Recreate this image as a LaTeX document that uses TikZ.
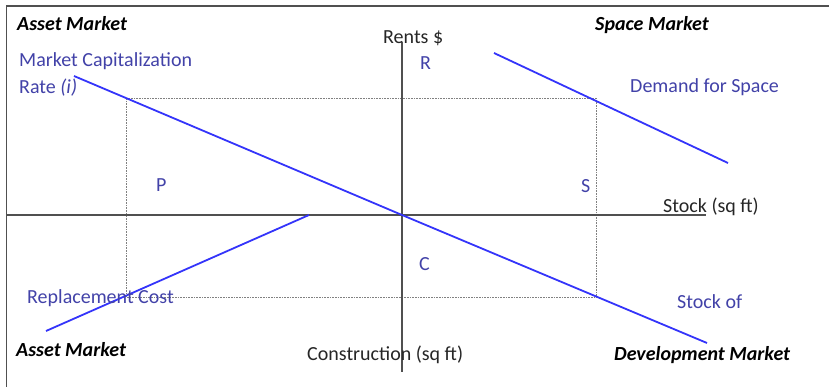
\documentclass[tikz,border=0pt]{standalone}
\usepackage{fontspec}
\setmainfont{Carlito}
\usepackage{tikz}
\newdimen\unitsize
\setlength{\unitsize}{1pt}
\definecolor{curveblue}{RGB}{52,52,250}
\definecolor{labelblue}{RGB}{66,66,168}
\definecolor{axisgray}{RGB}{80,80,80}

\begin{document}
\begin{tikzpicture}[x=\unitsize,y=-\unitsize,
  axis/.style={axisgray,line width=1.7pt},
  curve/.style={curveblue,line width=1.8pt},
  guide/.style={gray,densely dotted,line width=0.6pt},
  txt/.style={inner sep=0pt,anchor=base west,font=\fontsize{20}{24}\selectfont},
  quadtitle/.style={txt,font=\fontsize{20}{24}\selectfont\bfseries\itshape},
  bluetxt/.style={txt,labelblue},
  axistxt/.style={txt,black!85}]
\useasboundingbox (0,0) rectangle (829,387);
\draw[axisgray,line width=1pt] (6,387) -- (6,6);
\draw[axisgray,line width=1.8pt] (6,6) -- (829,6);

\coordinate (origin) at (402,215);
\coordinate (xleft) at (6,215);
\coordinate (xright) at (706,215);
\coordinate (ytop) at (402,42);
\coordinate (ybot) at (402,372);
\coordinate (caprate) at (74,76);
\coordinate (stockend) at (707,343);
\coordinate (demtop) at (494,53);
\coordinate (demend) at (728,163);
\coordinate (repllow) at (46,331);
\coordinate (replhigh) at (309,215);
\coordinate (pr) at (126,98);
\coordinate (rs) at (596,98);
\coordinate (sc) at (596,297);
\coordinate (cp) at (126,297);

\draw[guide] (pr) -- (rs) -- (sc) -- (cp) -- cycle;

\draw[axis] (xleft) -- (xright);
\draw[axis] (ytop) -- (ybot);

\draw[curve] (caprate) -- (origin) -- (stockend);
\draw[curve] (demtop) -- (demend);
\draw[curve] (repllow) -- (replhigh);

\node[quadtitle] (assettop) at (17,31) {Asset Market};
\node[quadtitle] (spacetop) at (595,31) {Space Market};
\node[quadtitle] (assetbot) at (16,356) {Asset Market};
\node[quadtitle] (devbot) at (614,360) {Development Market};

\node[axistxt] (rents) at (383,44) {Rents \$};
\node[axistxt] (stock) at (663,213) {Stock (sq ft)};
\node[axistxt] (constr) at (307,360) {Construction (sq ft)};

\node[bluetxt] (mcr) at (19,67) {Market Capitalization};
\node[bluetxt] (rate) at (19,94) {Rate \textit{(i)}};
\node[bluetxt] (demand) at (630,93) {Demand for Space};
\node[bluetxt] (repl) at (27,303) {Replacement Cost};
\node[bluetxt] (stockof) at (677,308) {Stock of};
\foreach \qname/\qx/\qy in {R/420/70,P/156/192,S/581/193,C/419/270}{
  \node[bluetxt] (quad\qname) at (\qx,\qy) {\qname};
}
\end{tikzpicture}
\end{document}
